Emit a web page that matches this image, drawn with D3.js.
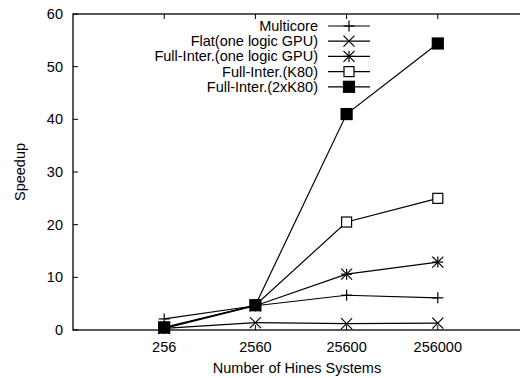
<!DOCTYPE html>
<html>
<head>
<meta charset="utf-8">
<script src="https://cdn.jsdelivr.net/npm/d3@7"></script>
<style>
  body { margin: 0; background: #fff; }
  svg { display: block; font-family: "Liberation Sans", Arial, sans-serif; }
</style>
</head>
<body>
<svg id="chart" width="520" height="378"></svg>
<script>
// data
var categories = ["256", "2560", "25600", "256000"];
var seriesNames = ["Multicore", "Flat(one logic GPU)", "Full-Inter.(one logic GPU)", "Full-Inter.(K80)", "Full-Inter.(2xK80)"];
var multicore = [2.1, 4.6, 6.6, 6.1];
var flat = [0.3, 1.4, 1.2, 1.3];
var fullInterOne = [0.3, 4.6, 10.6, 12.9];
var fullInterK80 = [0.4, 4.7, 20.5, 25.0];
var fullInter2K80 = [0.5, 4.7, 41.0, 54.4];
var yTicks = [0, 10, 20, 30, 40, 50, 60];
var markers = ["plus", "cross", "star", "square", "filled"];

var svg = d3.select('#chart');
var margin = { left: 73, top: 14, right: -9, bottom: 48 };
var width = 520 - margin.left - margin.right;
var height = 378 - margin.top - margin.bottom;
var fontSize = '14.5px';

var g = svg.append('g')
    .attr('transform', `translate(${margin.left}, ${margin.top})`);

// categories sit at positions 0..3 of a -1..4 domain
var xScale = d3.scaleLinear().domain([-1, 4]).range([0, width]);
var yScale = d3.scaleLinear().domain([0, 60]).range([height, 0]);

// frame
g.append('rect')
    .attr('width', width)
    .attr('height', height)
    .style('fill', 'none')
    .style('stroke', 'black')
    .style('stroke-width', 1.3);

// ticks, gnuplot style: inward and mirrored
yTicks.forEach(function(t) {
    g.append('line')
        .attr('x1', 0).attr('x2', 5)
        .attr('y1', yScale(t)).attr('y2', yScale(t))
        .style('stroke', 'black');
    g.append('line')
        .attr('x1', width).attr('x2', width - 5)
        .attr('y1', yScale(t)).attr('y2', yScale(t))
        .style('stroke', 'black');
    g.append('text')
        .attr('x', -10)
        .attr('y', yScale(t) + 5)
        .attr('text-anchor', 'end')
        .style('font-size', fontSize)
        .text(t);
});
categories.forEach(function(c, i) {
    g.append('line')
        .attr('x1', xScale(i)).attr('x2', xScale(i))
        .attr('y1', height).attr('y2', height - 5)
        .style('stroke', 'black');
    g.append('line')
        .attr('x1', xScale(i)).attr('x2', xScale(i))
        .attr('y1', 0).attr('y2', 5)
        .style('stroke', 'black');
    g.append('text')
        .attr('x', xScale(i))
        .attr('y', height + 22)
        .attr('text-anchor', 'middle')
        .style('font-size', fontSize)
        .text(c);
});

// axis titles
svg.append('text')
    .attr('transform', `translate(25, ${margin.top + height / 2}) rotate(-90)`)
    .attr('text-anchor', 'middle')
    .style('font-size', fontSize)
    .text('Speedup');
svg.append('text')
    .attr('x', 297)
    .attr('y', 373)
    .attr('text-anchor', 'middle')
    .style('font-size', fontSize)
    .text('Number of Hines Systems');

function drawMarker(sel, type, x, y) {
    var s = 5.5;
    if (type === 'plus' || type === 'star') {
        sel.append('line').attr('x1', x - s).attr('x2', x + s).attr('y1', y).attr('y2', y);
        sel.append('line').attr('x1', x).attr('x2', x).attr('y1', y - s).attr('y2', y + s);
    }
    if (type === 'cross' || type === 'star') {
        sel.append('line').attr('x1', x - s).attr('x2', x + s).attr('y1', y - s).attr('y2', y + s);
        sel.append('line').attr('x1', x - s).attr('x2', x + s).attr('y1', y + s).attr('y2', y - s);
    }
    if (type === 'square') {
        sel.append('rect').attr('x', x - 5).attr('y', y - 5).attr('width', 10).attr('height', 10)
            .style('fill', 'white');
    }
    if (type === 'filled') {
        sel.append('rect').attr('x', x - 5.5).attr('y', y - 5.5).attr('width', 11).attr('height', 11)
            .style('fill', 'black');
    }
}

var allSeries = [multicore, flat, fullInterOne, fullInterK80, fullInter2K80];
var line = d3.line()
    .x(function(d, i) { return xScale(i); })
    .y(function(d) { return yScale(d); });

for (var k = 0; k < allSeries.length; k++) {
    g.append('path')
        .datum(allSeries[k])
        .attr('d', line)
        .style('fill', 'none')
        .style('stroke', 'black')
        .style('stroke-width', 1.2);
    var mg = g.append('g').style('stroke', 'black').style('stroke-width', 1.2);
    allSeries[k].forEach(function(v, i) {
        drawMarker(mg, markers[k], xScale(i), yScale(v));
    });
}

// legend
var legend = svg.append('g');
seriesNames.forEach(function(name, k) {
    var y = 26 + k * 15.2;
    legend.append('text')
        .attr('x', 318)
        .attr('y', y + 5)
        .attr('text-anchor', 'end')
        .style('font-size', fontSize)
        .text(name);
    legend.append('line')
        .attr('x1', 328).attr('x2', 370)
        .attr('y1', y).attr('y2', y)
        .style('stroke', 'black')
        .style('stroke-width', 1.2);
    var mg = legend.append('g').style('stroke', 'black').style('stroke-width', 1.2);
    drawMarker(mg, markers[k], 349, y);
});
</script>
</body>
</html>
